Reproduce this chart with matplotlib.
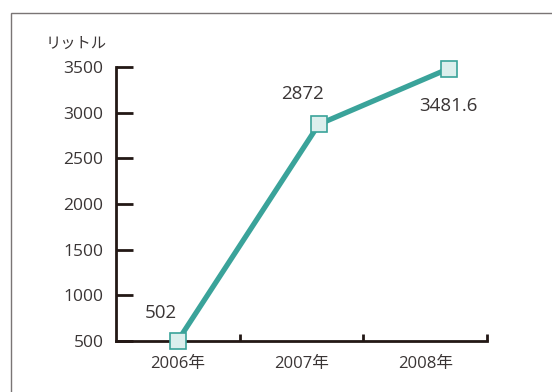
import matplotlib.pyplot as plt
from matplotlib.patches import Rectangle

plt.rcParams['font.family'] = ['Open Sans', 'Noto Sans CJK JP', 'DejaVu Sans']

# データ
years = ['2006年', '2007年', '2008年']
point_pos = [0.0, 1.14, 2.19]   # 点の横位置（カテゴリ単位）
liters = [502, 2872, 3481.6]
value_labels = ['502', '2872', '3481.6']
yticks = [500, 1000, 1500, 2000, 2500, 3000, 3500]

teal = '#3aa39a'
axis_col = '#231815'
text_col = '#3a3535'

fig = plt.figure(figsize=(5.52, 3.92), dpi=100)
ax = fig.add_axes([0.2101, 0.1301, 0.6721, 0.6990])

ax.plot(point_pos, liters, color=teal, lw=3.8, marker='s', ms=11,
        mfc='#dcefed', mec=teal, mew=1.2, zorder=3, clip_on=False)

# 値ラベル
offsets = [(-12, 20), (-12, 22), (0, -27)]
for x, y, s, (dx, dy) in zip(point_pos, liters, value_labels, offsets):
    ax.annotate(s, (x, y), xytext=(dx, dy), textcoords='offset points',
                ha='center', va='center', fontsize=13.5, color=text_col)

ax.set_xlim(-0.5, 2.5)
ax.set_ylim(500, 3500)
ax.set_yticks(yticks)
ax.set_yticklabels([str(v) for v in yticks], fontsize=12.5, color=text_col)
ax.set_xticks([0, 1, 2])
ax.set_xticklabels(years, fontsize=12, color=text_col)
ax.set_xticks([0.5, 1.5, 2.5], minor=True)

for s in ['top', 'right']:
    ax.spines[s].set_visible(False)
for s in ['left', 'bottom']:
    ax.spines[s].set_color(axis_col)
    ax.spines[s].set_linewidth(2)

ax.tick_params(axis='y', direction='in', length=12, width=2, color=axis_col, pad=9)
ax.tick_params(axis='x', which='major', length=0, pad=11)
ax.tick_params(axis='x', which='minor', direction='in', length=5, width=2, color=axis_col)

fig.text(46 / 552, 1 - 43 / 392, 'リットル', fontsize=11, color=text_col,
         ha='left', va='center', family=['Noto Sans CJK JP'])

# 外枠
fig.patches.append(Rectangle((11 / 552, -0.1), 1.2, 1.1 - 13 / 392,
                             transform=fig.transFigure, fill=False,
                             ec='#7a7575', lw=1))

fig.savefig('out.png', dpi=100)
